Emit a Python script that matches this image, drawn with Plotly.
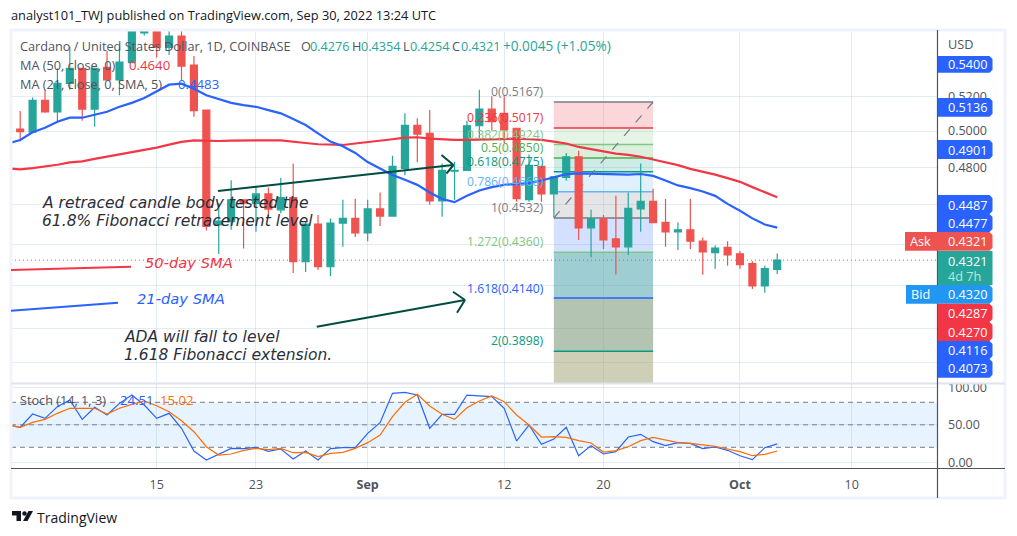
import numpy as np
import pandas as pd
import plotly.graph_objects as go

WIDTH, HEIGHT = 1017, 536

# Daily ADA/USD candles, 3 Aug 2022 to 4 Oct 2022
dates = pd.date_range("2022-08-03", periods=63).strftime("%Y-%m-%d").tolist()
opens = [.4967, .5011, .4994, .5177, .5109, .5277, .5367, .5126, .5373, .5297, .5402, .5586, .5720, .5496, .5567, .5387, .5120,
         .4497, .4514, .4626, .4608, .4657, .4574, .4638, .4314, .4501, .4289, .4506, .4530,
         .4456, .4579, .4542, .4793, .5033, .4987, .4620, .4778, .4783, .5030, .5125, .5101, .5016, .4627, .4805, .4657, .4745,
         .4857, .4482, .4528, .4426, .4387, .4579, .4618, .4510, .4462, .4472, .4415, .4358, .4384,
         .4352, .4304, .4197, .4276]
highs = [.5030, .5114, .5193, .5234, .5367, .5500, .5367, .5367, .5475, .5500, .5850, .5900, .5800, .5620, .5650, .5442, .5120,
         .4610, .4730, .4626, .4700, .4691, .4742, .4820, .4517, .4547, .4530, .4627, .4632,
         .4626, .4664, .4863, .5101, .5073, .5120, .4820, .4829, .5059, .5239, .5200, .5200, .5016, .4869, .4805, .4748, .4877,
         .4890, .4574, .4547, .4647, .4664, .4820, .4684, .4630, .4510, .4630, .4433, .4395, .4415,
         .4366, .4316, .4294, .4354]
lows = [.4950, .4941, .4994, .5105, .5053, .5240, .5059, .5025, .5297, .5206, .5402, .5571, .5434, .5449, .5297, .5082, .4468,
        .4351, .4472, .4379, .4462, .4540, .4557, .4259, .4264, .4273, .4243, .4387, .4436,
        .4415, .4491, .4542, .4757, .4827, .4600, .4539, .4626, .4783, .4957, .5002, .4933, .4616, .4616, .4616, .4536, .4727,
        .4421, .4335, .4376, .4252, .4347, .4462, .4508, .4387, .4371, .4376, .4250, .4280, .4294,
        .4280, .4182, .4165, .4254]
closes = [.5017, .4996, .5177, .5109, .5277, .5367, .5126, .5367, .5297, .5406, .5700, .5750, .5496, .5567, .5381, .5116, .4489,
          .4516, .4626, .4609, .4657, .4578, .4638, .4314, .4501, .4289, .4506, .4530, .4456,
          .4579, .4542, .4805, .5033, .4983, .4620, .4783, .4783, .5030, .5125, .5053, .5006, .4632, .4810, .4657, .4748, .4857,
          .4482, .4528, .4421, .4387, .4582, .4618, .4508, .4462, .4472, .4415, .4362, .4380, .4347,
          .4299, .4197, .4280, .4321]

# Moving averages on the same dates
ma21 = [.4930, .4950, .4993, .5019, .5053, .5076, .5076, .5095, .5110, .5139, .5162, .5190, .5229, .5269, .5275, .5245, .5206,
        .5183, .5162, .5149, .5139, .5120, .5101, .5068, .5034, .4987, .4941, .4915, .4878,
        .4828, .4795, .4758, .4732, .4705, .4665, .4630, .4614, .4647, .4675, .4693, .4705, .4711, .4714, .4728, .4747, .4762,
        .4767, .4765, .4762, .4760, .4760, .4763, .4753, .4728, .4702, .4688, .4670, .4647, .4605,
        .4569, .4530, .4499, .4483]
ma50 = [.4793, .4788, .4795, .4802, .4813, .4826, .4832, .4845, .4857, .4868, .4883, .4896, .4907, .4924, .4939, .4948, .4944,
        .4944, .4946, .4948, .4948, .4948, .4948, .4939, .4933, .4926, .4924, .4922, .4930,
        .4937, .4944, .4954, .4963, .4965, .4957, .4952, .4950, .4950, .4952, .4957, .4959, .4957, .4954, .4950, .4941, .4930,
        .4911, .4898, .4883, .4874, .4867, .4857, .4842, .4828, .4811, .4791, .4777, .4760, .4741,
        .4721, .4693, .4665, .4640]

# Stochastic oscillator
stoch_k = [49.7, 46.6, 64.4, 58.6, 74.2, 83.1, 57.3, 73.3, 63.1, 78.6, 89.7, 76.4, 58.6, 65.3, 45.3, 15.1, 3.1,
           10.6, 18.6, 18.2, 20.0, 14.6, 17.7, 4.4, 15.1, 3.1, 18.2, 19.5, 19.5,
           38.6, 52.8, 92.0, 93.3, 89.7, 45.3, 63.9, 63.9, 89.7, 88.8, 87.5, 72.0, 28.4, 49.7, 24.0, 31.1, 46.6,
           8.8, 22.2, 11.1, 14.2, 33.7, 37.3, 27.5, 22.2, 26.2, 25.3, 18.2, 20.4, 16.0,
           8.8, 3.5, 19.5, 24.51]
stoch_d = [49.7, 46.6, 53.3, 57.3, 65.3, 72.0, 72.0, 72.0, 64.4, 72.0, 77.3, 81.7, 75.5, 67.5, 55.5, 40.8, 20.8,
           9.7, 11.1, 16.0, 18.6, 16.9, 18.6, 12.8, 13.3, 7.5, 12.0, 13.3, 18.6,
           26.2, 36.4, 60.8, 80.0, 90.6, 75.1, 64.0, 57.3, 72.8, 81.7, 88.4, 80.8, 63.1, 49.7, 33.7, 34.2, 33.3,
           28.9, 25.7, 13.7, 15.5, 20.8, 28.9, 33.3, 29.3, 26.2, 25.3, 23.5, 21.3, 17.7,
           14.2, 8.8, 10.6, 15.02]

# Fibonacci tool anchored on the 16 Sep to 24 Sep swing
fib_start, fib_end = "2022-09-16", "2022-09-24"
fib_levels = ["0", "0.236", "0.382", "0.5", "0.618", "0.786", "1", "1.272", "1.618", "2"]
fib_prices = [.5167, .5017, .4924, .4850, .4775, .4668, .4532, .4360, .4140, .3898]
fib_floor = .3505
fib_lines = ["#787b86", "#f23645", "#81c784", "#4caf50", "#089981", "#64b5f6", "#787b86", "#81c784", "#2962ff", "#089981"]
fib_fills = ["rgba(242,54,69,.2)", "rgba(129,199,132,.2)", "rgba(76,175,80,.2)", "rgba(8,153,129,.2)",
             "rgba(100,181,246,.2)", "rgba(120,123,134,.2)", "rgba(41,98,255,.2)", "rgba(0,125,135,.38)",
             "rgba(75,115,75,.42)", "rgba(135,135,75,.4)"]
fib_label_y = [92, 117, 134, 147, 161, 181, 207, 241, 288, 340]

price_ticks = [.52, .50, .48, .46, .44, .42, .40, .385]
# Levels that sit behind a price tag carry no caption of their own
price_tick_text = ["0.5200", "0.5000", "0.4800", "", "", "", "", ""]
time_ticks = ["2022-08-15", "2022-08-23", "2022-09-01", "2022-09-12", "2022-09-20", "2022-10-01", "2022-10-10"]
time_tick_text = ["15", "23", "<b>Sep</b>", "12", "20", "<b>Oct</b>", "10"]
last_price = .4321

x_range = ["2022-08-03 06:15", "2022-10-16 21:00"]
UP, DOWN = "#26a69a", "#ef5350"
BLUE, RED = "#2962ff", "#f23645"
GRID = "rgba(110,155,190,.19)"
TEXT = "#50535e"
FONT = "Open Sans, sans-serif"
NOTE_FONT = "DejaVu Sans, sans-serif"


def px(x):
    return x / WIDTH


def py(y):
    return 1 - y / HEIGHT


annotations, shapes = [], []


def note(x, y, text, color=TEXT, size=12.7, anchor="left", family=FONT):
    annotations.append(dict(x=px(x), y=py(y), xref="paper", yref="paper", text=text, showarrow=False,
                            xanchor=anchor, yanchor="middle", borderpad=0, borderwidth=0,
                            font=dict(family=family, size=size, color=color)))


def segment(x0, y0, x1, y1, color, width=1, dash="solid"):
    shapes.append(dict(type="line", xref="paper", yref="paper", x0=px(x0), y0=py(y0), x1=px(x1), y1=py(y1),
                       line=dict(color=color, width=width, dash=dash), layer="above"))


def tag(left, top, bottom, color, text, label=None, right=992.5, r=3):
    # Price tag with rounded corners on the side facing away from the axis
    p = f"M {px(left)} {py(top)} L {px(right - r)} {py(top)} L {px(right)} {py(top + r)} " \
        f"L {px(right)} {py(bottom - r)} L {px(right - r)} {py(bottom)} L {px(left)} {py(bottom)} Z"
    shapes.append(dict(type="path", xref="paper", yref="paper", path=p, fillcolor=color,
                       line=dict(width=0), layer="above"))
    note(948, (top + bottom) / 2, text, "#ffffff")
    if label:
        note(left + 5, (top + bottom) / 2, label, "#ffffff")


fig = go.Figure()

# Fibonacci bands and levels sit under the candles
edges = fib_prices + [fib_floor]
for i, fill in enumerate(fib_fills):
    shapes.append(dict(type="rect", xref="x", yref="y", x0=fib_start, x1=fib_end, y0=edges[i + 1], y1=edges[i],
                       fillcolor=fill, line=dict(width=0), layer="below"))
for price, color in zip(fib_prices, fib_lines):
    shapes.append(dict(type="line", xref="x", yref="y", x0=fib_start, x1=fib_end, y0=price, y1=price,
                       line=dict(color=color, width=1.5), layer="below"))
shapes.append(dict(type="line", xref="x", yref="y", x0=fib_start, x1=fib_end, y0=fib_prices[6], y1=fib_prices[0],
                   line=dict(color="#787b86", width=1.2, dash="dash"), layer="below"))

# Last price marker line
fig.add_trace(go.Scatter(x=x_range, y=[last_price, last_price], mode="lines", xaxis="x", yaxis="y",
                         line=dict(color=UP, width=1, dash="1px,3px"), hoverinfo="skip"))

fig.add_trace(go.Candlestick(x=dates, open=opens, high=highs, low=lows, close=closes, xaxis="x", yaxis="y",
                             increasing=dict(line=dict(color=UP, width=1.2), fillcolor=UP),
                             decreasing=dict(line=dict(color=DOWN, width=1.2), fillcolor=DOWN),
                             whiskerwidth=0))
fig.add_trace(go.Scatter(x=dates, y=ma50, mode="lines", xaxis="x", yaxis="y", line=dict(color=RED, width=2.2)))
fig.add_trace(go.Scatter(x=dates, y=ma21, mode="lines", xaxis="x", yaxis="y", line=dict(color=BLUE, width=2.2)))

# Stochastic pane
shapes.append(dict(type="rect", xref="x2", yref="y2", x0=x_range[0], x1=x_range[1], y0=20, y1=80,
                   fillcolor="rgba(33,150,243,.11)", line=dict(width=0), layer="below"))
for level in (80, 50, 20):
    shapes.append(dict(type="line", xref="x2", yref="y2", x0=x_range[0], x1=x_range[1], y0=level, y1=level,
                       line=dict(color="#787b86", width=1, dash="5px,4px"), layer="below"))
fig.add_trace(go.Scatter(x=dates, y=stoch_k, mode="lines", xaxis="x2", yaxis="y2", line=dict(color="#2962ff", width=1.2)))
fig.add_trace(go.Scatter(x=dates, y=stoch_d, mode="lines", xaxis="x2", yaxis="y2", line=dict(color="#ff6d00", width=1.2)))

# Frame and pane separators
shapes.append(dict(type="rect", xref="paper", yref="paper", x0=px(11), x1=px(1005), y0=py(498), y1=py(30),
                   line=dict(color="#f0f3fa", width=3), layer="above"))
segment(11, 383.5, 1005, 383.5, "#e0e3eb", 2)
segment(11, 468.5, 1005, 468.5, "#50535e", 1.2)
segment(937.5, 30, 937.5, 498, "#50535e", 1.2)

# Hand-drawn trend arrows and legend strokes
ARROW = "#004d40"
segment(218, 191, 453, 165, ARROW, 2)
segment(441.5, 155, 453.5, 165, ARROW, 2)
segment(446.5, 173.5, 453.5, 165, ARROW, 2)
segment(316.7, 326.7, 465, 300, ARROW, 2)
segment(453, 291.7, 465, 300, ARROW, 2)
segment(457, 312.7, 465, 300, ARROW, 2)
segment(11, 270, 131, 266.7, RED, 2)
segment(11, 310.7, 118, 302.7, BLUE, 2)

# Publication header and chart legend
note(11, 15.5, "analyst101_TWJ published on TradingView.com, Sep 30, 2022 13:24 UTC", "#131722", 12.8)
note(20, 46, "Cardano / United States Dollar, 1D, COINBASE")
note(301, 46, "O")
note(310, 46, "0.4276", UP, 12.7)
note(352, 46, "H")
note(361, 46, "0.4354", UP, 12.7)
note(403, 46, "L")
note(410, 46, "0.4254", UP, 12.7)
note(452, 46, "C")
note(461, 46, "0.4321", UP, 12.7)
note(503, 46, "+0.0045 (+1.05%)", UP, 13.6)
note(20, 65, "MA (50, close, 0)")
note(129, 65, "0.4640", RED, 13.2)
note(20, 84, "MA (21, close, 0, SMA, 5)")
note(178, 84, "0.4483", BLUE, 13.2)
note(20, 400, "Stoch (14, 1, 3)")
note(120, 400, "24.51", BLUE, 13.2)
note(160, 400, "15.02", "#ff6d00", 13.2)
note(948, 44, "USD")

# Fibonacci level captions
for level, price, color, y in zip(fib_levels, fib_prices, fib_lines, fib_label_y):
    note(544, y, f"{level}({price:.4f})", color, 12.2, "right")

# Chart commentary
note(42, 203, "<i>A retraced candle body tested the</i>", "#2a2e39", 15.5, family=NOTE_FONT)
note(42, 221, "<i>61.8% Fibonacci retracement level</i>", "#2a2e39", 15.5, family=NOTE_FONT)
note(145, 262, "<i>50-day SMA</i>", RED, 14.7, family=NOTE_FONT)
note(137, 298, "<i>21-day SMA</i>", BLUE, 14.7, family=NOTE_FONT)
note(124, 337, "<i>ADA will fall to level</i>", "#2a2e39", 15.5, family=NOTE_FONT)
note(124, 355, "<i>1.618 Fibonacci extension.</i>", "#2a2e39", 15.5, family=NOTE_FONT)

# Price tags on the axis
tag(938, 56, 72.7, BLUE, "0.5400")
tag(938, 98, 116.7, BLUE, "0.5136")
tag(938, 140, 159, BLUE, "0.4901")
tag(938, 195, 214, BLUE, "0.4487")
tag(938, 214, 232, BLUE, "0.4477")
tag(905, 232, 250.7, DOWN, "0.4321", "Ask")
shapes.append(dict(type="rect", xref="paper", yref="paper", x0=px(938), x1=px(992.5), y0=py(285), y1=py(251),
                   fillcolor=UP, line=dict(width=0), layer="above"))
note(948, 261, "0.4321", "#ffffff")
note(948, 276, "4d 7h", "#bfe5e0")
tag(906, 285, 303.7, "#2196f3", "0.4320", "Bid")
tag(938, 303.7, 322, RED, "0.4287")
tag(938, 322, 341, RED, "0.4270")
tag(938, 341, 359, BLUE, "0.4116")
tag(938, 359, 377.7, BLUE, "0.4073")

# TradingView footer mark
for path in ("M 12 511 L 21 511 L 21 521 L 16.5 521 L 16.5 515.5 L 12 515.5 Z",
             "M 28.5 511 L 33 511 L 27.5 521 L 23 521 Z"):
    coords = path.split()
    out, k = [], 0
    while k < len(coords):
        if coords[k] in "MLZ":
            out.append(coords[k])
            if coords[k] != "Z":
                out.append(f"{px(float(coords[k + 1]))} {py(float(coords[k + 2]))}")
                k += 2
        k += 1
    shapes.append(dict(type="path", xref="paper", yref="paper", path=" ".join(out),
                       fillcolor="#131722", line=dict(width=0), layer="above"))
shapes.append(dict(type="circle", xref="paper", yref="paper", x0=px(22.3), x1=px(26.7), y0=py(515.7), y1=py(511.3),
                   fillcolor="#131722", line=dict(width=0), layer="above"))
note(37, 517, "TradingView", "#131722", 14)

axis_common = dict(showline=False, zeroline=False, ticks="")
fig.update_layout(
    width=WIDTH, height=HEIGHT, autosize=False,
    margin=dict(l=0, r=0, t=0, b=0, autoexpand=False),
    paper_bgcolor="#ffffff", plot_bgcolor="#ffffff",
    showlegend=False, boxgap=0.2, hovermode=False,
    font=dict(family=FONT, color=TEXT, size=12.5),
    xaxis=dict(type="date", domain=[px(11), px(937)], range=x_range, anchor="y", tickmode="array",
               tickvals=time_ticks, showticklabels=False, showgrid=True, gridcolor=GRID, gridwidth=1,
               rangeslider=dict(visible=False), **axis_common),
    yaxis=dict(type="log", domain=[py(383), py(30)], range=[np.log10(.3761), np.log10(.5605)], anchor="x", side="right",
               tickmode="array", tickvals=price_ticks, ticktext=price_tick_text, showgrid=True, gridcolor=GRID,
               gridwidth=1, ticklabelstandoff=10, tickfont=dict(size=12.5, color=TEXT), **axis_common),
    xaxis2=dict(type="date", domain=[px(11), px(937)], range=x_range, anchor="y2", tickmode="array",
                tickvals=time_ticks, ticktext=time_tick_text, showgrid=True, gridcolor=GRID, gridwidth=1,
                ticklabelstandoff=7, tickfont=dict(size=12.5, color=TEXT), tickangle=0, **axis_common),
    yaxis2=dict(domain=[py(468), py(384)], range=[-7.6, 104.4], anchor="x2", side="right", tickmode="array",
                tickvals=[0, 50, 100], ticktext=["0.00", "50.00", "100.00"], showgrid=True, gridcolor=GRID,
                gridwidth=1, ticklabelstandoff=10, tickfont=dict(size=12.5, color=TEXT), **axis_common),
    shapes=shapes, annotations=annotations,
)

fig.write_html("out.html")
